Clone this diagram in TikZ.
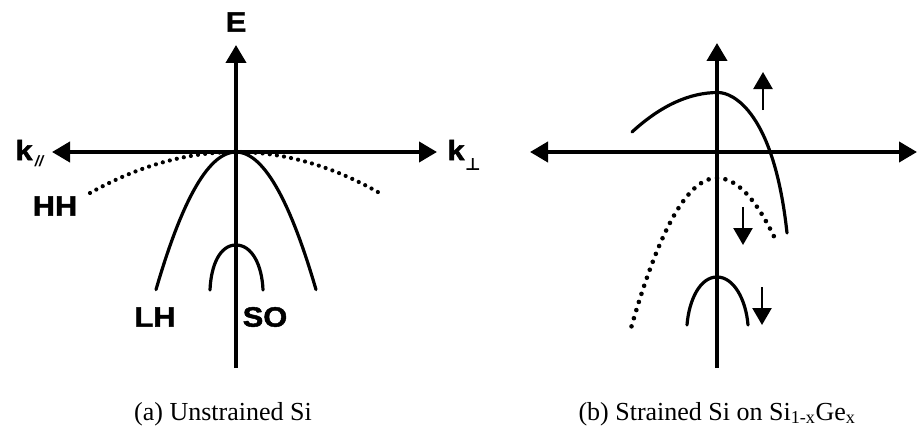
\documentclass[tikz,border=0pt]{standalone}
\usepackage{fontspec}
\setmainfont{Liberation Serif}
\setsansfont{Liberation Sans}
\newfontfamily\dejavu{DejaVu Sans}
\newfontfamily\lblfont[BoldFeatures={FakeBold=1.6}]{Liberation Sans}
\usetikzlibrary{arrows.meta}
\begin{document}
\begin{tikzpicture}[x=1pt,y=-1pt,
 axisline/.style={line width=4pt,-{Triangle[length=18pt,width=20pt]}},
 axisboth/.style={line width=4pt,{Triangle[length=18pt,width=20pt]}-{Triangle[length=18pt,width=20pt]}},
 band/.style={line width=3.2pt, line cap=round},
 dotband/.style={line width=4.2pt, line cap=round, dash pattern=on 0pt off 7.2pt},
 dotbandb/.style={line width=4.6pt, line cap=round, dash pattern=on 0pt off 8.5pt},
 shiftarrow/.style={line width=2.5pt,-{Triangle[length=17pt,width=19pt]}},
 lbl/.style={font=\lblfont\bfseries\fontsize{28}{28}\selectfont, inner sep=0pt, xscale=1.1},
 sublbl/.style={font=\lblfont\bfseries\itshape\fontsize{15}{15}\selectfont, inner sep=0pt},
 captext/.style={font=\fontsize{26}{30}\selectfont, inner sep=0pt, anchor=base}]
\useasboundingbox (0,0) rectangle (918,428);
% ---------- panel (a)
\coordinate (aT) at (236,45);
\coordinate (aB) at (236,368);
\coordinate (aL) at (52,152);
\coordinate (aR) at (437,152);
\draw[axisline] (aB) -- (aT);
\draw[axisboth] (aL) -- (aR);
% HH
\draw[dotband] (90,193) .. controls (138.7,165.7) and (187.3,152) .. (236,152)
  .. controls (285,152) and (334,166.3) .. (383,195);
% LH
\draw[band] plot[domain=-80:80,samples=61] ({236+\x},{152+0.0215*\x*\x});
% SO
\draw[band] (210,290) .. controls (211,265) and (220,245) .. (236,245)
  .. controls (252,245) and (262,265) .. (263,290);
% labels
\node[lbl] (E) at (236,22) {E};
\node[lbl] (kpar) at (24,150) {k};
\node[sublbl] (kparsub) at (39,161) {//};
\node[lbl] (kperp) at (456,150) {k};
\node[inner sep=0pt, font=\dejavu\bfseries\fontsize{17}{17}\selectfont] (kperpsub) at (473,165) {⊥};
\node[lbl] (HH) at (55,206) {HH};
\node[lbl] (LH) at (155,317) {LH};
\node[lbl] (SO) at (265,317) {SO};
% ---------- panel (b)
\coordinate (bT) at (717,43);
\coordinate (bB) at (717,368);
\coordinate (bL) at (530,152);
\coordinate (bR) at (917,152);
\draw[axisline] (bB) -- (bT);
\draw[axisboth] (bL) -- (bR);
% upper band
\draw[band] (632,132) .. controls (660.7,105.7) and (689.3,92.5) .. (718,92.5)
  .. controls (733,92.5) and (774,112) .. (787,233);
% dotted band
\draw[dotbandb] plot[domain=-85.5:59.5,samples=80] ({717+\x},{178+(\x<0 ? 0.0203 : 0.018)*\x*\x});
% SO band
\draw[band] (687,325) .. controls (689,300) and (700,277) .. (717,277)
  .. controls (734,277) and (746,300) .. (748,325);
% shift arrows
\coordinate (u1s) at (763,110);
\coordinate (u1e) at (763,72);
\coordinate (d1s) at (743,207);
\coordinate (d1e) at (743,245);
\coordinate (d2s) at (762,287);
\coordinate (d2e) at (762,325);
\draw[shiftarrow] (u1s) -- (u1e);
\draw[shiftarrow] (d1s) -- (d1e);
\draw[shiftarrow] (d2s) -- (d2e);
% ---------- captions
\node[captext] (capa) at (223,420) {(a) Unstrained Si};
\node[captext] (capb) at (717,420) {(b) Strained Si on Si\textsubscript{1-x}Ge\textsubscript{x}};
\end{tikzpicture}
\end{document}
